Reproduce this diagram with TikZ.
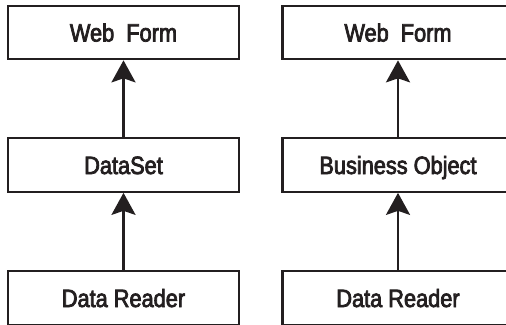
\documentclass[tikz,border=0pt]{standalone}
\usepackage{fontspec}
\setmainfont{Liberation Sans}[FakeStretch=0.87,FakeBold=3]
\usetikzlibrary{arrows.meta}
\definecolor{ink}{HTML}{231F20}
\begin{document}
\begin{tikzpicture}[x=1pt,y=1pt,
  box/.style={draw=ink, line width=2.2pt, minimum width=231pt, minimum height=53.5pt,
    inner sep=0pt, text=ink, font=\fontsize{25}{28}\selectfont, text height=18pt, text depth=0pt},
  arr/.style={draw=ink, line width=2.4pt, -{Stealth[length=22pt,width=24pt,inset=4pt]}}]
\useasboundingbox (0,0) rectangle (506,-324);
\clip (0,0) rectangle (506,-324);
\node[box] (wf1) at (123.5,-32.5) {Web\ \ Form};
\node[box] (ds)  at (123.5,-165) {DataSet};
\node[box] (dr1) at (123.5,-298) {Data Reader};
\node[box] (wf2) at (398,-32.5) {Web\ \ Form};
\node[box] (bo)  at (398,-165) {Business Object};
\node[box] (dr2) at (398,-298) {Data Reader};
\draw[arr] (ds.north) -- (wf1.south);
\draw[arr] (dr1.north) -- (ds.south);
\draw[arr] (bo.north) -- (wf2.south);
\draw[arr] (dr2.north) -- (bo.south);
\end{tikzpicture}
\end{document}
